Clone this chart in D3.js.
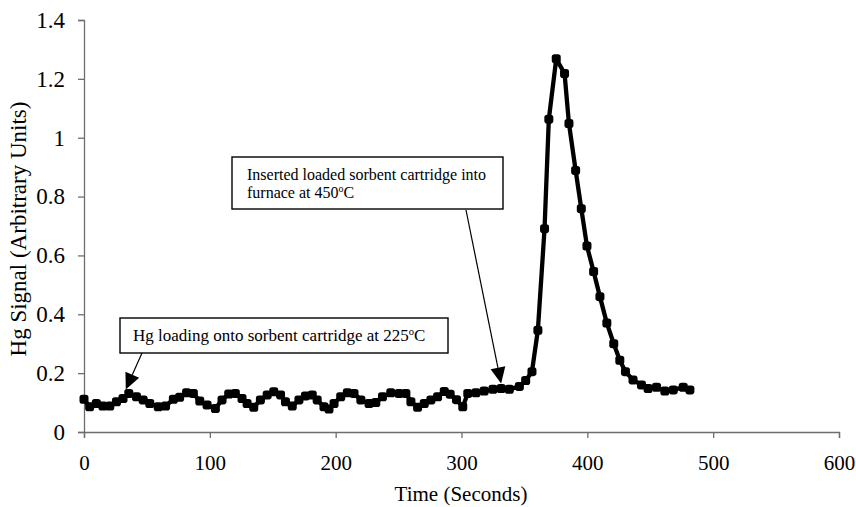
<!DOCTYPE html>
<html><head><meta charset="utf-8">
<script src="https://cdn.jsdelivr.net/npm/d3@7"></script>
<style>body{margin:0;background:#fff}svg{display:block}text{font-family:"Liberation Serif","Times New Roman",serif;fill:#000}</style>
</head><body><svg id="c" width="856" height="507"></svg>
<script>
const times = [0,4.5,9.8,15,20.5,25.8,31,35.6,41.7,47,52.3,59,64.8,71,76,81.5,86.9,92,97.8,104.4,109.7,115,120.3,125.6,129.6,134.9,140.2,145.6,150.8,156.2,160.1,165.5,170.8,176,181.4,185.3,190.7,194.7,198.7,204,209.3,214.6,220,226.5,231.9,237.2,243.8,250.4,255.8,259.8,265.1,270.4,275.7,281,286.3,291,296,301,305,311.5,318,325,331.5,338,346,351,356,360.7,366,369.4,375.3,381.9,385.4,390.7,395.2,399.7,405,410,415.5,421,425.8,430.3,436.3,443,448.3,455,461.6,468.3,476.2,481.5];
const signal = [0.111,0.086,0.097,0.088,0.088,0.103,0.114,0.131,0.120,0.109,0.097,0.086,0.088,0.111,0.118,0.133,0.131,0.105,0.092,0.080,0.109,0.129,0.131,0.114,0.097,0.084,0.109,0.126,0.137,0.126,0.103,0.088,0.109,0.122,0.126,0.109,0.086,0.078,0.097,0.120,0.133,0.131,0.109,0.097,0.100,0.120,0.133,0.131,0.131,0.103,0.084,0.097,0.109,0.120,0.138,0.128,0.110,0.086,0.131,0.133,0.139,0.145,0.148,0.145,0.155,0.175,0.205,0.346,0.691,1.063,1.268,1.218,1.048,0.889,0.759,0.632,0.545,0.460,0.370,0.300,0.244,0.205,0.177,0.160,0.148,0.152,0.139,0.143,0.152,0.143];
const xTicks = [0,100,200,300,400,500,600];
const yTicks = [0,0.2,0.4,0.6,0.8,1,1.2,1.4];
const xTitle = "Time (Seconds)";
const yTitle = "Hg Signal (Arbitrary Units)";
const notes = [
  {lines:["Hg loading onto sorbent cartridge at 225"], t:35.6, v:0.131},
  {lines:["Inserted loaded sorbent cartridge into","furnace at 450"], t:331.5, v:0.148}
];

const svg = d3.select("#c");
const x = d3.scaleLinear().domain([0,600]).range([84,839]);
const y = d3.scaleLinear().domain([0,1.4]).range([432,20]);
const axisCol = "#6e6e6e";

const gx = svg.append("g").attr("transform",`translate(0,${y(0)})`)
  .call(d3.axisBottom(x).tickValues(xTicks).tickSize(6).tickPadding(17).tickFormat(d3.format("d")));
const gy = svg.append("g").attr("transform",`translate(${x(0)},0)`)
  .call(d3.axisLeft(y).tickValues(yTicks).tickSize(6).tickPadding(13).tickFormat(d=>String(d)));
[gx,gy].forEach(g=>{
  g.selectAll("path,line").attr("stroke",axisCol).attr("stroke-width",1.3);
  g.selectAll("text").attr("font-family","Liberation Serif").attr("fill","#000");
});
gx.selectAll("text").attr("font-size",21);
gy.selectAll("text").attr("font-size",23);

svg.append("text").attr("x",461).attr("y",501).attr("text-anchor","middle").attr("font-size",21).text(xTitle);
svg.append("text").attr("transform","translate(26,229) rotate(-90)").attr("text-anchor","middle").attr("font-size",23).text(yTitle);

const data = times.map((t,i)=>({t, v:signal[i]}));
svg.append("path").datum(data).attr("fill","none").attr("stroke","#000").attr("stroke-width",4.3)
  .attr("stroke-linejoin","round")
  .attr("d", d3.line().x(d=>x(d.t)).y(d=>y(d.v)));
svg.append("g").selectAll("rect").data(data).join("rect")
  .attr("x",d=>x(d.t)-4.5).attr("y",d=>y(d.v)-4.5).attr("width",9).attr("height",9).attr("rx",2.8)
  .attr("fill","#000");

function arrow(x1,y1,x2,y2){
  const ang = Math.atan2(y2-y1,x2-x1), L=16, W=7.5;
  const bx = x2 - L*Math.cos(ang), by = y2 - L*Math.sin(ang);
  svg.append("line").attr("x1",x1).attr("y1",y1).attr("x2",bx).attr("y2",by).attr("stroke","#000").attr("stroke-width",1.2);
  const px = -Math.sin(ang)*W, py = Math.cos(ang)*W;
  svg.append("path").attr("d",`M${x2},${y2}L${bx+px},${by+py}L${bx-px},${by-py}Z`).attr("fill","#000");
}
function degC(sel, txt, fs){
  sel.append("tspan").text(txt);
  sel.append("tspan").text("o").attr("font-size",fs*0.62).attr("dy",-fs*0.38);
  sel.append("tspan").text("C").attr("dy",fs*0.38);
}
// box 1
svg.append("rect").attr("x",120).attr("y",318).attr("width",328).attr("height",35).attr("fill","#fff").attr("stroke","#000").attr("stroke-width",1.4);
degC(svg.append("text").attr("x",133).attr("y",341).attr("font-size",17), notes[0].lines[0], 17);
arrow(142,353, x(notes[0].t)-3, y(notes[0].v)-4);
// box 2
svg.append("rect").attr("x",232).attr("y",157).attr("width",271).attr("height",52).attr("fill","#fff").attr("stroke","#000").attr("stroke-width",1.4);
svg.append("text").attr("x",247).attr("y",180).attr("font-size",16).text(notes[1].lines[0]);
degC(svg.append("text").attr("x",247).attr("y",198).attr("font-size",16), notes[1].lines[1], 16);
arrow(466,210, x(notes[1].t), y(notes[1].v)-5);
</script></body></html>
